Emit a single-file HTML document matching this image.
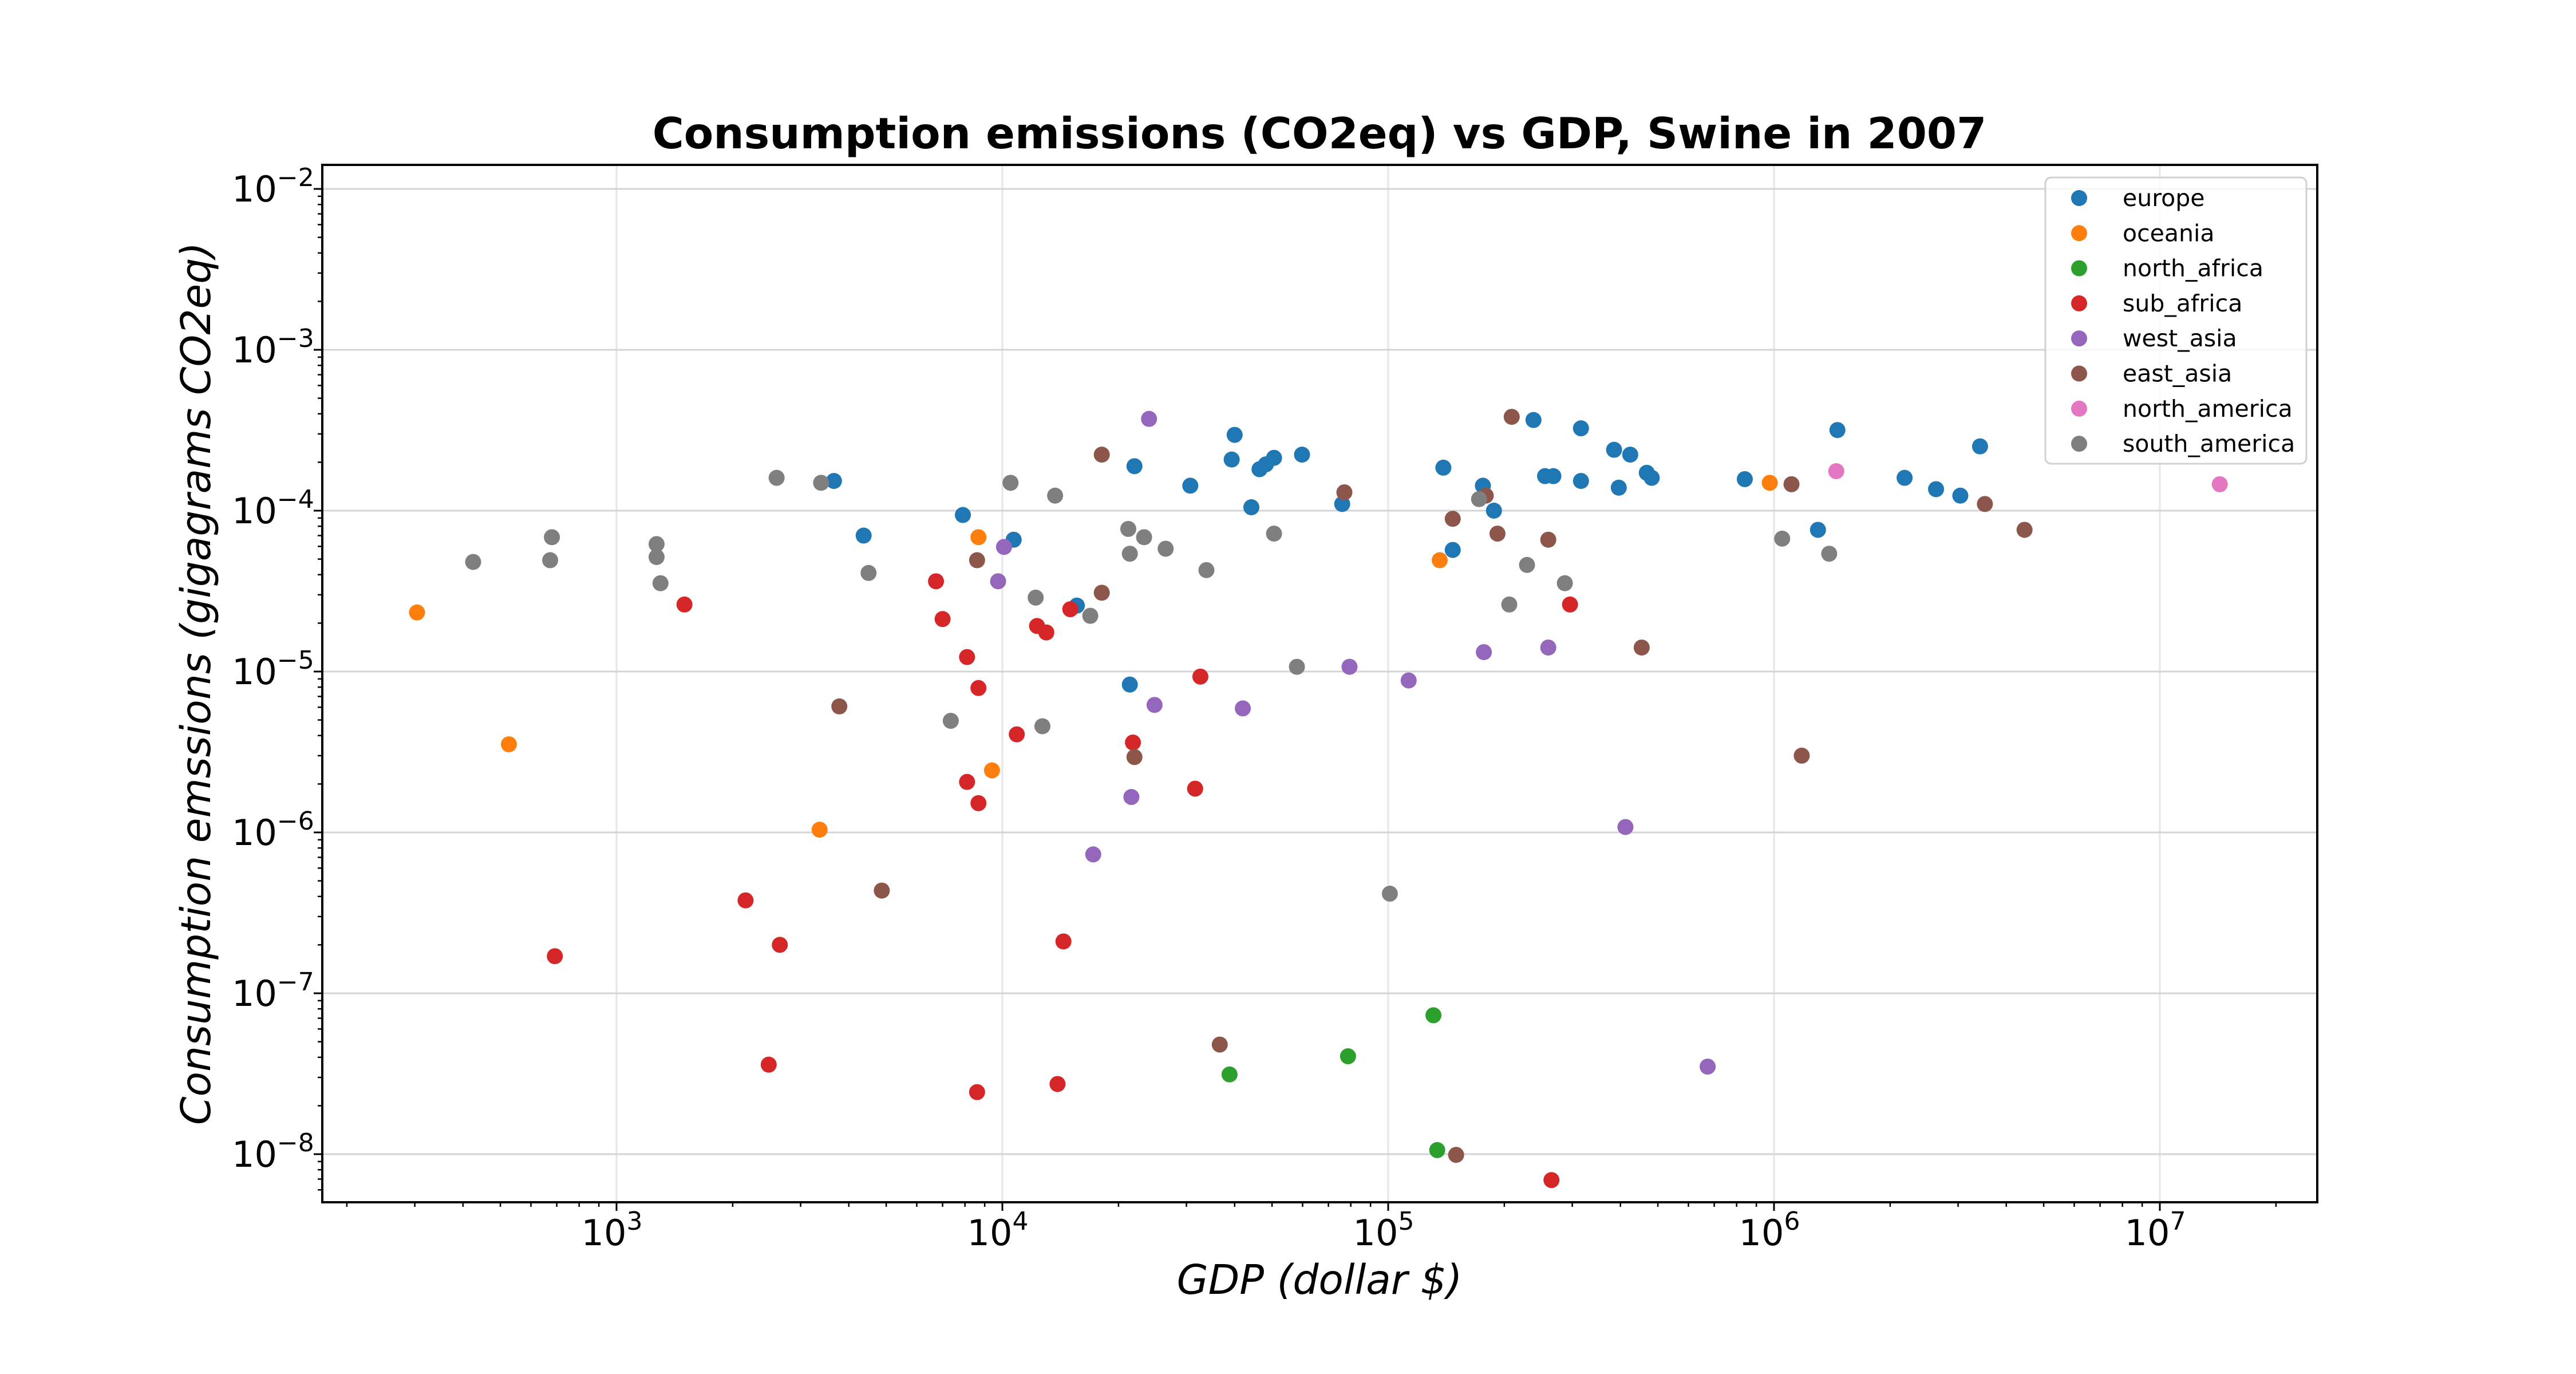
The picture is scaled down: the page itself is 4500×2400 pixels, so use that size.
<!DOCTYPE html>
<html><head><meta charset="utf-8">
<style>
html,body{margin:0;padding:0;background:#fff;}
svg{display:block;font-family:"DejaVu Sans","Liberation Sans",sans-serif;}
</style></head>
<body>
<svg id="chart" width="4500" height="2400" viewBox="0 0 4500 2400" xmlns="http://www.w3.org/2000/svg">
<rect x="0" y="0" width="4500" height="2400" fill="#fff"/>
<g id="grid"></g>
<g id="pts"></g>
<rect x="563" y="288" width="3485" height="1812" fill="none" stroke="#000" stroke-width="4"/>
<g id="ticks"></g>
<text x="2305" y="259" text-anchor="middle" font-size="75" font-weight="bold">Consumption emissions (CO2eq) vs GDP, Swine in 2007</text>
<text x="2305" y="2260" text-anchor="middle" font-size="71" font-style="italic">GDP (dollar $)</text>
<text transform="translate(367,1194) rotate(-90)" text-anchor="middle" font-size="71" font-style="italic">Consumption emssions (gigagrams CO2eq)</text>
<g id="legend"></g>
</svg>
<script>
const seriesNames = ["europe","oceania","north_africa","sub_africa","west_asia","east_asia","north_america","south_america"];
const seriesColors = ["#1f77b4","#ff7f0e","#2ca02c","#d62728","#9467bd","#8c564b","#e377c2","#7f7f7f"];
const europeGDP = [3.66e3,4.37e3,7.9e3,1.07e4,1.56e4,2.14e4,2.2e4,3.07e4,3.93e4,4.0e4,4.42e4,4.64e4,4.82e4,5.06e4,5.98e4,7.6e4,1.39e5,1.47e5,1.76e5,1.88e5,2.38e5,2.55e5,2.68e5,3.16e5,3.16e5,3.85e5,3.96e5,4.24e5,4.68e5,4.82e5,8.4e5,1.30e6,1.46e6,2.18e6,2.63e6,3.04e6,3.42e6];
const europeCO2 = [1.53e-4,7.0e-5,9.4e-5,6.6e-5,2.57e-5,8.3e-6,1.89e-4,1.43e-4,2.08e-4,2.96e-4,1.05e-4,1.81e-4,1.94e-4,2.13e-4,2.23e-4,1.10e-4,1.85e-4,5.7e-5,1.43e-4,1.0e-4,3.66e-4,1.64e-4,1.64e-4,3.25e-4,1.53e-4,2.39e-4,1.39e-4,2.23e-4,1.72e-4,1.60e-4,1.57e-4,7.6e-5,3.17e-4,1.60e-4,1.36e-4,1.24e-4,2.51e-4];
const oceaniaGDP = [304,526,3.36e3,8.67e3,9.4e3,1.36e5,9.75e5];
const oceaniaCO2 = [2.33e-5,3.53e-6,1.04e-6,6.84e-5,2.43e-6,4.92e-5,1.49e-4];
const northAfricaGDP = [7.87e4,3.88e4,1.31e5,1.34e5];
const northAfricaCO2 = [4.06e-8,3.13e-8,7.3e-8,1.06e-8];
const subAfricaGDP = [692,1.50e3,2.16e3,2.48e3,2.65e3,6.73e3,7.0e3,8.1e3,8.1e3,8.67e3,8.67e3,8.6e3,1.09e4,1.23e4,1.30e4,1.39e4,1.44e4,1.50e4,2.18e4,3.16e4,3.26e4,2.96e5,2.65e5];
const subAfricaCO2 = [1.70e-7,2.61e-5,3.78e-7,3.6e-8,2.0e-7,3.64e-5,2.12e-5,1.23e-5,2.06e-6,7.9e-6,1.52e-6,2.43e-8,4.07e-6,1.92e-5,1.75e-5,2.73e-8,2.10e-7,2.44e-5,3.62e-6,1.87e-6,9.3e-6,2.61e-5,6.9e-9];
const westAsiaGDP = [9.75e3,1.01e4,1.72e4,2.16e4,2.40e4,2.48e4,4.2e4,7.94e4,1.13e5,1.77e5,2.60e5,4.12e5,6.73e5];
const westAsiaCO2 = [3.64e-5,5.95e-5,7.3e-7,1.66e-6,3.72e-4,6.2e-6,5.9e-6,1.07e-5,8.8e-6,1.32e-5,1.41e-5,1.08e-6,3.5e-8];
const eastAsiaGDP = [3.78e3,4.87e3,8.6e3,1.81e4,1.81e4,2.2e4,3.66e4,7.7e4,1.47e5,1.50e5,1.79e5,1.92e5,2.09e5,2.60e5,4.54e5,1.11e6,1.18e6,3.52e6,4.46e6];
const eastAsiaCO2 = [6.07e-6,4.35e-7,4.92e-5,2.23e-4,3.09e-5,2.94e-6,4.8e-8,1.30e-4,8.9e-5,9.9e-9,1.24e-4,7.2e-5,3.83e-4,6.6e-5,1.41e-5,1.46e-4,3.0e-6,1.10e-4,7.6e-5];
const northAmericaGDP = [1.45e6,1.43e7];
const northAmericaCO2 = [1.76e-4,1.46e-4];
const southAmericaGDP = [425,673,680,1.27e3,1.27e3,1.30e3,2.60e3,3.39e3,4.5e3,7.35e3,1.05e4,1.22e4,1.27e4,1.37e4,1.69e4,2.12e4,2.14e4,2.33e4,2.65e4,3.38e4,5.06e4,5.8e4,1.01e5,1.72e5,2.06e5,2.29e5,2.87e5,1.05e6,1.39e6];
const southAmericaCO2 = [4.8e-5,4.92e-5,6.84e-5,6.2e-5,5.15e-5,3.54e-5,1.60e-4,1.49e-4,4.1e-5,4.94e-6,1.49e-4,2.88e-5,4.57e-6,1.24e-4,2.22e-5,7.7e-5,5.4e-5,6.84e-5,5.8e-5,4.27e-5,7.2e-5,1.07e-5,4.16e-7,1.18e-4,2.61e-5,4.6e-5,3.54e-5,6.7e-5,5.4e-5];
const xTickExps = [3,4,5,6,7];
const yTickExps = [-2,-3,-4,-5,-6,-7,-8];

const NS = "http://www.w3.org/2000/svg";
const L = 563, R = 4048, T = 288, B = 2100;
function xScale(v){ return 1077 + (Math.log10(v) - 3) * 674; }
function yScale(v){ return 330 + (-2 - Math.log10(v)) * 281; }
function mk(tag, attrs, parent){ const e = document.createElementNS(NS, tag); for (const k in attrs) e.setAttribute(k, attrs[k]); parent.appendChild(e); return e; }

const grid = document.getElementById('grid');
const ticks = document.getElementById('ticks');
for (let e = 2; e <= 7; e++) {
  for (let m = 1; m <= 9; m++) {
    const v = m * Math.pow(10, e);
    const x = xScale(v);
    if (x < L || x > R) continue;
    if (m === 1) {
      const g = mk('line', {x1:x, x2:x, y1:T, y2:B, stroke:'#e6e6e6', 'stroke-width':3}, grid);
      
      
      const t = mk('line', {x1:x, x2:x, y1:B, y2:B+15, stroke:'#000', 'stroke-width':3}, ticks);
      
      
    } else {
      const t = mk('line', {x1:x, x2:x, y1:B, y2:B+8, stroke:'#000', 'stroke-width':2.5}, ticks);
      
      
    }
  }
}
xTickExps.forEach(e => {
  const x = xScale(Math.pow(10, e));
  const tx = mk('text', {x:x - 8, y:2175, 'text-anchor':'middle', 'font-size':62}, ticks);
  
  
  tx.textContent = '10';
  const sp = mk('tspan', {dy:-27, 'font-size':44}, tx);
  sp.textContent = String(e);
});
for (let e = -9; e <= -2; e++) {
  for (let m = 1; m <= 9; m++) {
    const v = m * Math.pow(10, e);
    const y = yScale(v);
    if (y < T || y > B) continue;
    if (m === 1) {
      const g = mk('line', {x1:L, x2:R, y1:y, y2:y, stroke:'#d4d4d4', 'stroke-width':3}, grid);
      
      
      const t = mk('line', {x1:L-15, x2:L, y1:y, y2:y, stroke:'#000', 'stroke-width':3}, ticks);
      
      
    } else {
      const t = mk('line', {x1:L-8, x2:L, y1:y, y2:y, stroke:'#000', 'stroke-width':2.5}, ticks);
      
      
    }
  }
}
yTickExps.forEach(e => {
  const y = yScale(Math.pow(10, e));
  const tx = mk('text', {x:405, y:y + 22, 'font-size':62}, ticks);
  
  
  tx.textContent = '10';
  const sp = mk('tspan', {dy:-27, 'font-size':44}, tx);
  sp.textContent = '\u2212' + String(-e);
});

const seriesX = [europeGDP, oceaniaGDP, northAfricaGDP, subAfricaGDP, westAsiaGDP, eastAsiaGDP, northAmericaGDP, southAmericaGDP];
const seriesY = [europeCO2, oceaniaCO2, northAfricaCO2, subAfricaCO2, westAsiaCO2, eastAsiaCO2, northAmericaCO2, southAmericaCO2];
const pts = document.getElementById('pts');
seriesX.forEach((xs, s) => {
  const g = mk('g', {fill: seriesColors[s]}, pts);
  
  
  xs.forEach((xv, i) => {
    const c = mk('circle', {cx: xScale(xv), cy: yScale(seriesY[s][i]), r: 14}, g);
    
    
  });
});

const lg = document.getElementById('legend');
const box = mk('rect', {x:3573, y:310, width:456, height:500, rx:10, fill:'#fff', 'fill-opacity':0.8, stroke:'#d0d0d0', 'stroke-width':3}, lg);


seriesNames.forEach((n, i) => {
  const y = 346 + i * 61.3;
  const ent = mk('g', {}, lg);
  
  
  mk('circle', {cx:3632, cy:y, r:14, fill:seriesColors[i]}, ent);
  const t = mk('text', {x:3708, y:y + 14, 'font-size':41}, ent);
  t.textContent = n;
});
</script>
</body></html>
